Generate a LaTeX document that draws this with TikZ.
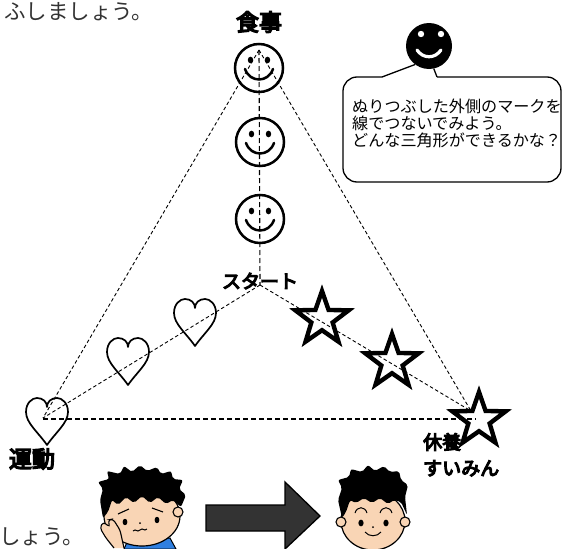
\documentclass[tikz,border=0pt]{standalone}
\usepackage{fontspec}
\setmainfont{Noto Sans CJK JP}
\newfontfamily\jpheavy[FakeBold=6]{Noto Sans CJK JP}
\usetikzlibrary{shapes.geometric}
\definecolor{skin}{HTML}{F9D5B5}
\definecolor{shirt}{HTML}{2F7FE0}
\definecolor{arrowgray}{HTML}{333333}
\definecolor{textgray}{HTML}{333333}

\tikzset{
  thindash/.style={line width=0.9pt, dash pattern=on 3.5pt off 2.5pt},
  middash/.style={line width=1.1pt, dash pattern=on 5pt off 3pt},
  smiley/.style={circle, draw, line width=2.5pt, minimum size=48pt, inner sep=0pt},
  starmark/.style={star, star points=5, star point ratio=2.5, draw, line width=4.4pt,
                   minimum size=56pt, inner sep=0pt},
  heavylbl/.style={font=\jpheavy\fontsize{23}{23}\selectfont, inner sep=0pt},
  midlbl/.style={font=\jpheavy\fontsize{19}{26}\selectfont, inner sep=0pt},
  plaintext/.style={font=\fontsize{21.5}{21.5}\selectfont, text=textgray, inner sep=0pt},
  heart/.pic={
    \draw[line width=1.7pt, line join=round]
      (0,24) .. controls (-9,11) and (-21,2) .. (-21,-9)
             .. controls (-21,-18) and (-15,-23) .. (-10,-23)
             .. controls (-4,-23) and (0,-19) .. (0,-14)
             .. controls (0,-19) and (4,-23) .. (10,-23)
             .. controls (15,-23) and (21,-18) .. (21,-9)
             .. controls (21,2) and (9,11) .. (0,24) -- cycle;
  },
  smileface/.pic={
    \fill (-8.5,-8) ellipse (2.7pt and 3.3pt);
    \fill (8.5,-8) ellipse (2.7pt and 3.3pt);
    \draw[line width=2.5pt, line cap=round]
      (-14,1) .. controls (-9,15) and (9,15) .. (14,1);
  }
}

\begin{document}
\begin{tikzpicture}[x=1pt, y=-1pt]
\useasboundingbox (0,0) rectangle (563,549);
\clip (0,0) rectangle (563,549);

% --- triangle corners and start point ---
\coordinate (apex) at (259,50);
\coordinate (start) at (260,285);
\coordinate (leftc) at (43,418);
\coordinate (rightc) at (471,411);
\coordinate (baseL) at (43,419);
\coordinate (baseR) at (476,419);

% outer triangle
\draw[thindash] (apex) -- (leftc);
\draw[thindash] (apex) -- (rightc);
\draw[middash] (baseL) -- (baseR);
% three axes from the start point
\draw[middash] (apex) -- (start);
\draw[thindash] (start) -- (leftc);
\draw[thindash] (start) -- (rightc);

% --- meal axis: smileys ---
\node[smiley] (s1) at (259,68) {};
\node[smiley] (s2) at (260,142) {};
\node[smiley] (s3) at (260,219) {};
\pic at (s1) {smileface};
\pic at (s2) {smileface};
\pic at (s3) {smileface};

% --- exercise axis: hearts ---
\coordinate (h1) at (47,421);
\coordinate (h2) at (128,361);
\coordinate (h3) at (195,322);
\pic at (h1) {heart};
\pic at (h2) {heart};
\pic at (h3) {heart};

% --- rest axis: stars ---
\node[starmark] (st1) at (322,319) {};
\node[starmark] (st2) at (392,362) {};
\node[starmark] (st3) at (479,420) {};

% --- labels ---
\node[heavylbl] (meal) at (259,22) {食事};
\node[heavylbl] (exercise) at (32,459) {運動};
\node[midlbl] (startlbl) at (260,281) {スタート};
\node[midlbl, anchor=north west, align=left] (rest) at (423,433) {休養\\すいみん};

% --- speaker and speech bubble ---
\node[circle, fill=black, minimum size=46pt, inner sep=0pt] (face) at (429,46) {};
\fill[white] (421,34) circle (3.2pt);
\fill[white] (441,34) circle (3.2pt);
\draw[white, line width=3.2pt, line cap=round]
  (417,50) .. controls (423,59) and (435,59) .. (441,50);
\coordinate (tailA) at (382,77);
\coordinate (tailB) at (437,77);
\draw[line width=1.3pt, rounded corners=14pt]
  (tailB) -- (561,77) -- (561,182) -- (343,182) -- (343,77) -- (tailA);
\draw[line width=1.3pt] (tailA) -- (face.233);
\draw[line width=1.3pt] (tailB) -- (face.282);
\node[anchor=north west, align=left, inner sep=0pt,
      font=\fontsize{16.1}{17}\selectfont] (msg) at (352,99)
  {ぬりつぶした外側のマークを\\線でつないでみよう。\\どんな三角形ができるかな？};

% --- running text at the edges ---
\node[plaintext, anchor=west] (topline) at (4,11.5) {ふしましょう。};
\node[plaintext, anchor=west] (bottomline) at (-1,537) {しょう。};

% --- worried child ---
\begin{scope}
  \draw[fill=shirt, line width=1pt] (124,549) -- (128,540) -- (170,538) -- (176,549) -- cycle;
  \draw[fill=skin, line width=1.2pt] (142,516) ellipse (38pt and 30pt);
  \draw[fill=skin, line width=1.1pt] (178,512) circle (5pt);
  \fill[black, rounded corners=2pt]
    (103,518) -- (100,500) -- (103,489) -- (98,482) -- (109,479) -- (107,471)
    -- (120,474) -- (124,466) -- (132,472) -- (140,465) -- (147,471) -- (157,467)
    -- (161,474) -- (171,471) -- (173,479) -- (183,480) -- (179,489) -- (186,495)
    -- (181,507) -- (173,500) -- (166,504) -- (158,497) -- (150,503) -- (142,496)
    -- (134,503) -- (126,497) -- (118,505) -- (112,500) -- (108,512) -- cycle;
  \draw[fill=skin, line width=1.1pt, rounded corners=3pt]
    (114,548) -- (106,538) -- (100,528) -- (103,522) -- (110,527) -- (108,520)
    -- (113,519) -- (120,530) -- (124,548);
  \fill (125,522) ellipse (2.4pt and 3.2pt);
  \fill (157,520) ellipse (2.4pt and 3.2pt);
  \draw[line width=1.1pt] (118,514) -- (129,509);
  \draw[line width=1.1pt] (152,508) -- (163,512);
  \fill (140,523) circle (1pt);
  \draw[line width=1pt] (133,531) .. controls (136,528) and (137,533) .. (140,530)
                         .. controls (143,527) and (144,532) .. (147,529);
\end{scope}

% --- arrow ---
\draw[fill=arrowgray, line width=1.3pt, line join=miter]
  (206,505) -- (285,505) -- (285,482) -- (320,516) -- (285,549) -- (285,531)
  -- (206,531) -- cycle;

% --- smiling child ---
\begin{scope}
  \draw[fill=skin, line width=1.2pt] (373,521) ellipse (32pt and 29pt);
  \draw[fill=skin, line width=1.1pt] (341,522) circle (5pt);
  \draw[fill=skin, line width=1.1pt] (405,522) circle (5pt);
  \fill[black, rounded corners=2pt]
    (342,518) -- (338,500) -- (342,488) -- (338,480) -- (349,477) -- (351,469)
    -- (362,472) -- (368,465) -- (375,471) -- (384,466) -- (390,472) -- (399,471)
    -- (401,480) -- (408,485) -- (405,497) -- (407,515) -- (401,502) -- (394,500)
    -- (388,504) -- (380,498) -- (372,503) -- (364,498) -- (356,503) -- (350,500)
    -- (346,512) -- cycle;
  \draw[line width=1pt] (355,513) .. controls (357,506) and (365,506) .. (367,513);
  \draw[line width=1pt] (380,513) .. controls (382,506) and (390,506) .. (392,513);
  \fill (361,523) ellipse (2.6pt and 3.4pt);
  \fill (386,523) ellipse (2.6pt and 3.4pt);
  \fill (373,527) circle (1pt);
  \draw[line width=1pt] (365,532) .. controls (369,537) and (377,537) .. (381,532);
\end{scope}
\end{tikzpicture}
\end{document}
